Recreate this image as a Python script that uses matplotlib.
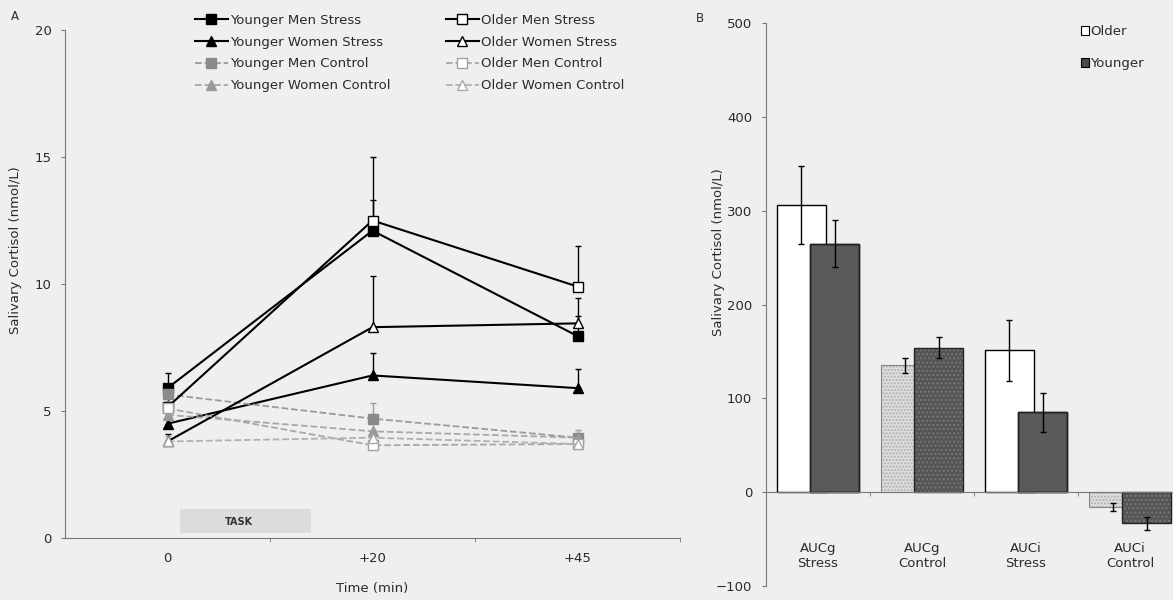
import matplotlib
matplotlib.use("Agg")
import matplotlib.pyplot as plt
from matplotlib.patches import Rectangle
import numpy as np

plt.rcParams['font.family'] = ['DejaVu Sans']
TXT = '#2a2a2a'
plt.rcParams['text.color'] = TXT
plt.rcParams['axes.labelcolor'] = TXT
plt.rcParams['xtick.labelcolor'] = TXT
plt.rcParams['ytick.labelcolor'] = TXT

# ---------------- data ----------------
times = ['0', '+20', '+45']
ym_stress = [5.9, 12.1, 7.95]
ym_stress_err = [0.6, 1.2, 0.8]
om_stress = [5.15, 12.5, 9.9]
om_stress_err = [0.4, 2.5, 1.6]
yw_stress = [4.5, 6.4, 5.9]
yw_stress_err = [0.3, 0.9, 0.75]
ow_stress = [3.8, 8.3, 8.45]
ow_stress_err = [0.3, 2.0, 1.0]
ym_control = [5.65, 4.7, 3.95]
ym_control_err = [0.4, 0.6, 0.3]
om_control = [5.1, 3.65, 3.7]
om_control_err = [0.3, 0.3, 0.3]
yw_control = [4.85, 4.2, 3.95]
yw_control_err = [0.3, 0.4, 0.3]
ow_control = [3.8, 3.95, 3.7]
ow_control_err = [0.2, 0.3, 0.3]

auc_labels = ['AUCg\nStress', 'AUCg\nControl', 'AUCi\nStress', 'AUCi\nControl']
older_auc = [306, 135, 151, -16]
older_auc_err = [42, 8, 33, 4.5]
younger_auc = [265, 154, 85, -33]
younger_auc_err = [25, 11, 21, 7]

BG = '#efefef'
FS = 9.5
W, H = 1173, 600
fig = plt.figure(figsize=(W / 100, H / 100), dpi=100, facecolor=BG)

# ---------------- panel A ----------------
A_l, A_r, A_t, A_b = 65, 680, 30, 538
axA = fig.add_axes([A_l / W, 1 - A_b / H, (A_r - A_l) / W, (A_b - A_t) / H])
axA.set_facecolor(BG)
x = np.arange(len(times))

series = [
    ('Younger Men Stress', ym_stress, ym_stress_err, 's', 'black', 'black', '-', 'black'),
    ('Younger Women Stress', yw_stress, yw_stress_err, '^', 'black', 'black', '-', 'black'),
    ('Younger Men Control', ym_control, ym_control_err, 's', '#8a8a8a', '#8a8a8a', '--', '#9a9a9a'),
    ('Younger Women Control', yw_control, yw_control_err, '^', '#9a9a9a', '#9a9a9a', '--', '#a8a8a8'),
    ('Older Men Stress', om_stress, om_stress_err, 's', 'white', 'black', '-', 'black'),
    ('Older Women Stress', ow_stress, ow_stress_err, '^', 'white', 'black', '-', 'black'),
    ('Older Men Control', om_control, om_control_err, 's', 'white', '#a0a0a0', '--', '#a8a8a8'),
    ('Older Women Control', ow_control, ow_control_err, '^', 'white', '#a8a8a8', '--', '#b0b0b0'),
]

handles = []
for name, vals, errs, mk, fc, ec, ls, lc in series:
    lw = 1.5 if ls == '-' else 1.3
    axA.errorbar(x, vals, yerr=[np.zeros(len(errs)), errs], fmt='none',
                 ecolor=lc, elinewidth=1.0, capsize=2, zorder=2)
    ln, = axA.plot(x, vals, linestyle=ls, color=lc, linewidth=lw, marker=mk,
                   markersize=6.5, markerfacecolor=fc, markeredgecolor=ec,
                   markeredgewidth=1.0, zorder=3, label=name)
    handles.append(ln)

axA.set_xlim(-0.5, 2.5)
axA.set_ylim(0, 20)
axA.set_yticks([0, 5, 10, 15, 20])
axA.set_xticks(x)
axA.set_xticklabels(times)
axA.set_xticks([0.5, 1.5, 2.5], minor=True)
axA.tick_params(axis='x', which='major', length=0, pad=10, labelsize=FS)
axA.tick_params(axis='x', which='minor', length=3, direction='out', color='#777777')
axA.tick_params(axis='y', length=3, color='#777777', labelsize=FS, pad=6.5)
for s in ['top', 'right']:
    axA.spines[s].set_visible(False)
for s in ['left', 'bottom']:
    axA.spines[s].set_color('#777777')
    axA.spines[s].set_linewidth(0.8)
axA.set_xlabel('Time (min)', fontsize=FS, labelpad=12)
axA.set_ylabel('Salivary Cortisol (nmol/L)', fontsize=FS)
axA.yaxis.set_label_coords((22 - A_l) / (A_r - A_l), (A_b - 250) / (A_b - A_t))

# TASK marker
axA.add_patch(Rectangle((0.06, 0.2), 0.64, 0.95, facecolor='#dcdcdc',
                        edgecolor='none', zorder=1))
axA.text(0.35, 0.63, 'TASK', fontsize=7, fontweight='bold', ha='center',
         va='center', color='#333333', zorder=2)

fig.legend(handles=handles, loc='upper left',
           bbox_to_anchor=(195 / W, 1 - 14 / H), ncol=2, frameon=False,
           fontsize=FS, handlelength=2.5, handletextpad=0.15, borderpad=0,
           labelspacing=0.66, columnspacing=4.2, borderaxespad=0)

fig.text(15 / W, 1 - 17 / H, 'A', fontsize=8.5, ha='center', va='center')

# ---------------- panel B ----------------
B_l, B_t, B_b = 766, 23, 586
axB = fig.add_axes([B_l / W, 1 - B_b / H, (W - B_l) / W, (B_b - B_t) / H])
axB.set_facecolor(BG)
xb = np.arange(len(auc_labels))
bw = 0.47
off = 0.16
older_fc = ['white', '#dddddd', 'white', '#dddddd']
older_hatch = [None, '.....', None, '.....']
younger_fc = ['#5a5a5a', '#555555', '#5a5a5a', '#555555']
younger_hatch = [None, '....', None, '....']

for i in range(len(auc_labels)):
    # older
    axB.bar(xb[i] - off, older_auc[i], width=bw, color=older_fc[i],
            hatch=older_hatch[i], edgecolor='#b0b0b0' if older_hatch[i] else 'black',
            linewidth=0 if older_hatch[i] else 1.0, zorder=2)
    if older_hatch[i]:
        axB.bar(xb[i] - off, older_auc[i], width=bw, fill=False,
                edgecolor='#888888', linewidth=0.8, zorder=2)
    axB.errorbar(xb[i] - off, older_auc[i], yerr=older_auc_err[i], fmt='none',
                 ecolor='black', elinewidth=1.0, capsize=2, zorder=3)
    # younger
    axB.bar(xb[i] + off, younger_auc[i], width=bw, color=younger_fc[i],
            hatch=younger_hatch[i], edgecolor='#777777' if younger_hatch[i] else 'black',
            linewidth=0 if younger_hatch[i] else 1.0, zorder=4)
    axB.bar(xb[i] + off, younger_auc[i], width=bw, fill=False,
            edgecolor='#222222', linewidth=1.0, zorder=4)
    axB.errorbar(xb[i] + off, younger_auc[i], yerr=younger_auc_err[i], fmt='none',
                 ecolor='black', elinewidth=1.0, capsize=2, zorder=5)

axB.set_xlim(-0.5, (W - B_l) / 104 - 0.5)
axB.set_ylim(-100, 500)
axB.set_yticks([-100, 0, 100, 200, 300, 400, 500])
axB.spines['bottom'].set_position(('data', 0))
axB.set_xticks([])
axB.set_xticks([0.5, 1.5, 2.5], minor=True)
axB.tick_params(axis='x', which='minor', length=3, direction='out', color='#777777',
                labelbottom=False)
axB.tick_params(axis='y', length=3, color='#777777', labelsize=FS, pad=7)
for s in ['top', 'right']:
    axB.spines[s].set_visible(False)
for s in ['left', 'bottom']:
    axB.spines[s].set_color('#777777')
    axB.spines[s].set_linewidth(0.8)
axB.spines['bottom'].set_zorder(6)
for i, lab in enumerate(auc_labels):
    axB.text(xb[i], -68, lab, ha='center', va='center', fontsize=FS,
             linespacing=1.25)
axB.set_ylabel('Salivary Cortisol (nmol/L)', fontsize=FS)
axB.yaxis.set_label_coords((725 - B_l) / (W - B_l), (B_b - 252) / (B_b - B_t))

legB_handles = [
    Rectangle((0, 0), 1, 1, facecolor='white', edgecolor='black', linewidth=0.8),
    Rectangle((0, 0), 1, 1, facecolor='#4a4a4a', edgecolor='black', linewidth=0.8),
]
fig.legend(handles=legB_handles, labels=['Older', 'Younger'], loc='upper left',
           bbox_to_anchor=(1081 / W, 1 - 25 / H), frameon=False, fontsize=FS,
           handlelength=0.6, handleheight=0.6, handletextpad=0.1, borderpad=0,
           labelspacing=1.45, borderaxespad=0)

fig.text(700 / W, 1 - 18 / H, 'B', fontsize=8.5, ha='center', va='center')

fig.savefig('out.png', dpi=100, facecolor=BG)
